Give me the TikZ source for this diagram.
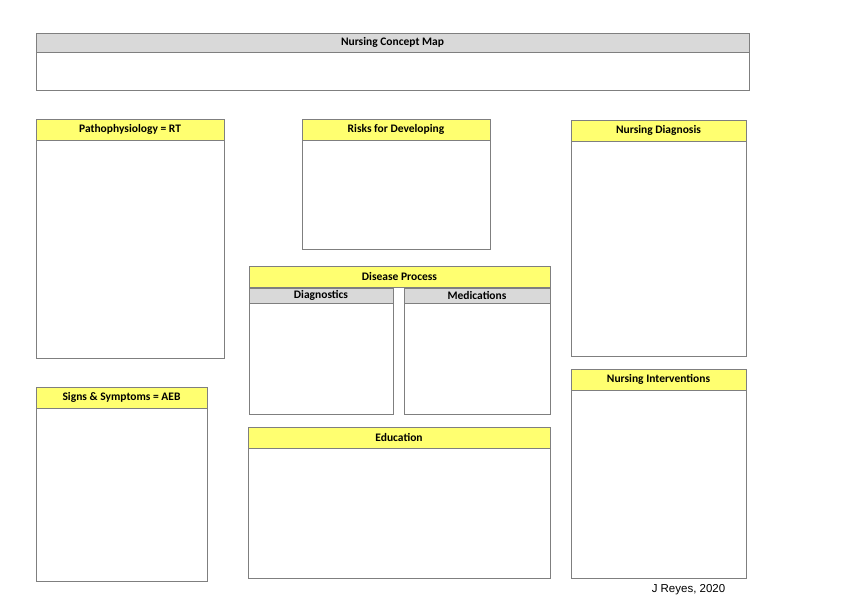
\documentclass[tikz,border=0pt]{standalone}
\usepackage{fontspec}
\setmainfont{Carlito}
\newfontfamily\arialfont{Liberation Sans}
\definecolor{hdry}{HTML}{FFFF70}
\definecolor{hdrg}{HTML}{D9D9D9}
\definecolor{edgec}{HTML}{7F7F7F}
\begin{document}
\begin{tikzpicture}[x=1pt,y=-1pt,
  base/.style={draw=edgec, line width=0.8pt, inner sep=0pt, anchor=north west, outer sep=0pt},
  yhdr/.style={base, fill=hdry, font=\fontsize{11.5}{13}\selectfont\bfseries},
  ghdr/.style={base, fill=hdrg, font=\fontsize{11.5}{13}\selectfont\bfseries},
  bodybox/.style={base, fill=white}]
\useasboundingbox[fill=white] (0,0) rectangle (842,595);
% title
\node[ghdr, minimum width=713pt, minimum height=19pt] (titleh) at (36,33) {Nursing Concept Map};
\node[bodybox, minimum width=713pt, minimum height=38pt] (titleb) at (36,52) {};
% pathophysiology
\node[yhdr, minimum width=188pt, minimum height=21pt] (pathoh) at (36,119) {Pathophysiology = RT};
\node[bodybox, minimum width=188pt, minimum height=218pt] (pathob) at (36,140) {};
% risks
\node[yhdr, minimum width=188pt, minimum height=21pt] (riskh) at (302,119) {Risks for Developing};
\node[bodybox, minimum width=188pt, minimum height=109pt] (riskb) at (302,140) {};
% nursing diagnosis
\node[yhdr, minimum width=175pt, minimum height=21pt] (diagh) at (571,120) {Nursing Diagnosis};
\node[bodybox, minimum width=175pt, minimum height=215pt] (diagb) at (571,141) {};
% disease process
\node[yhdr, minimum width=301pt, minimum height=21pt] (disph) at (249,266) {Disease Process};
\node[ghdr, minimum width=144pt, minimum height=15pt] (dxh) at (249,288) {Diagnostics};
\node[bodybox, minimum width=144pt, minimum height=111pt] (dxb) at (249,303) {};
\node[ghdr, minimum width=146pt, minimum height=15pt] (medh) at (404,288) {Medications};
\node[bodybox, minimum width=146pt, minimum height=111pt] (medb) at (404,303) {};
% signs & symptoms
\node[yhdr, minimum width=171pt, minimum height=21pt] (signh) at (36,387) {Signs \& Symptoms = AEB};
\node[bodybox, minimum width=171pt, minimum height=173pt] (signb) at (36,408) {};
% education
\node[yhdr, minimum width=302pt, minimum height=21pt] (eduh) at (248,427) {Education};
\node[bodybox, minimum width=302pt, minimum height=130pt] (edub) at (248,448) {};
% nursing interventions
\node[yhdr, minimum width=175pt, minimum height=21pt] (intvh) at (571,369) {Nursing Interventions};
\node[bodybox, minimum width=175pt, minimum height=188pt] (intvb) at (571,390) {};
% credit
\node[anchor=base, inner sep=0pt, font=\arialfont\fontsize{11.5}{13}\selectfont] (credit) at (688.5,592) {J Reyes, 2020};
\end{tikzpicture}
\end{document}
